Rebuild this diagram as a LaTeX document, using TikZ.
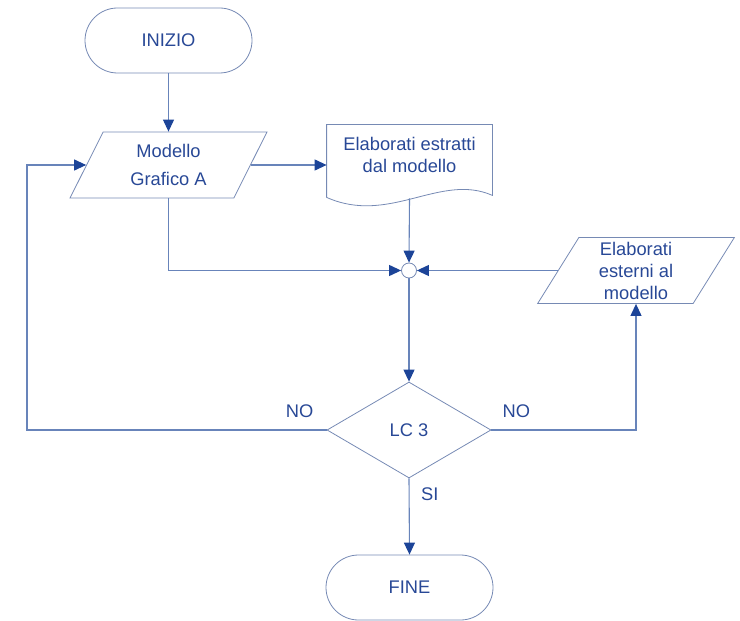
\documentclass[tikz,border=0pt]{standalone}
\usepackage{fontspec}
\setmainfont{Liberation Sans}
\usetikzlibrary{positioning,shapes.geometric,shapes.misc,arrows.meta}
\definecolor{flowLine}{RGB}{104,132,186}
\definecolor{flowArrow}{RGB}{28,68,152}
\definecolor{flowText}{RGB}{40,72,150}
\definecolor{flowBorder}{RGB}{118,138,180}

\tikzset{
    flowbox/.style={
        draw=flowBorder,
        line width=0.8bp,
        text=flowText,
        font=\fontsize{18.3bp}{22bp}\selectfont,
        align=center,
        inner sep=0pt
    },
    terminal/.style={flowbox, rounded rectangle, minimum width=167bp, minimum height=65bp},
    iobox/.style={
        flowbox,
        trapezium,
        trapezium left angle=65,
        trapezium right angle=115,
        trapezium stretches=true,
        minimum width=197bp,
        minimum height=66bp
    },
    decision/.style={flowbox, diamond, minimum width=164bp, minimum height=96bp},
    docbox/.style={flowbox, draw=none, rectangle, minimum width=165bp, minimum height=60bp},
    junction/.style={draw=flowBorder, line width=0.8bp, circle, fill=white, minimum size=15bp, inner sep=0pt},
    flow/.style={draw=flowLine, line width=1.1bp, -{Triangle[length=12bp,width=11bp,color=flowArrow]}},
    answer/.style={text=flowText, font=\fontsize{18.3bp}{22bp}\selectfont, inner sep=0pt}
}

\begin{document}
\begin{tikzpicture}[x=1bp, y=-1bp]
\useasboundingbox (0,0) rectangle (740,621);

\node[terminal] (inizio) at (168.5,40.5) {INIZIO};
\node[iobox] (modello) at (168.5,165) {Modello\\[6bp]Grafico A};
\node[docbox] (estratti) at (409.5,155) {Elaborati estratti\\dal modello};
\node[junction] (nodo) at (409,270.5) {};
\node[iobox] (esterni) at (636,270.5) {Elaborati\\esterni al\\modello};
\node[decision] (lc) at (409,430) {LC 3};
\node[terminal] (fine) at (409.5,587.5) {FINE};
\coordinate (ritorno) at (27,430);

% contorno del documento
\draw[draw=flowBorder, line width=0.8bp]
    ([yshift=-12bp]estratti.south west) -- (estratti.north west) -- (estratti.north east)
    -- ([yshift=-10bp]estratti.south east)
    .. controls ([xshift=-52bp,yshift=13bp]estratti.south east) and ([xshift=63bp,yshift=-40bp]estratti.south west)
    .. ([yshift=-12bp]estratti.south west);

\draw[flow] (inizio.south) -- (inizio.south |- modello.top side);
\draw[flow] (modello.right side) -- (modello.right side -| estratti.west);
\draw[flow] ([yshift=-13bp]estratti.south) -- (nodo.north);
\draw[flow] (modello.center |- modello.bottom side) |- (nodo.west);
\draw[flow] (esterni.left side) -- (nodo.east);
\draw[flow] (nodo.south) -- (lc.north);
\draw[flow] (lc.west) -- (lc.west -| ritorno) |- (modello.left side);
\draw[flow] (lc.east) -| (esterni.center |- esterni.bottom side);
\draw[flow] (lc.south) -- (fine.north);

\node[answer, above left=12bp and 13bp of lc.west] (noSx) {NO};
\node[answer, above right=12bp and 11bp of lc.east] (noDx) {NO};
\node[answer, below right=9bp and 12bp of lc.south] (si) {SI};
\end{tikzpicture}
\end{document}
